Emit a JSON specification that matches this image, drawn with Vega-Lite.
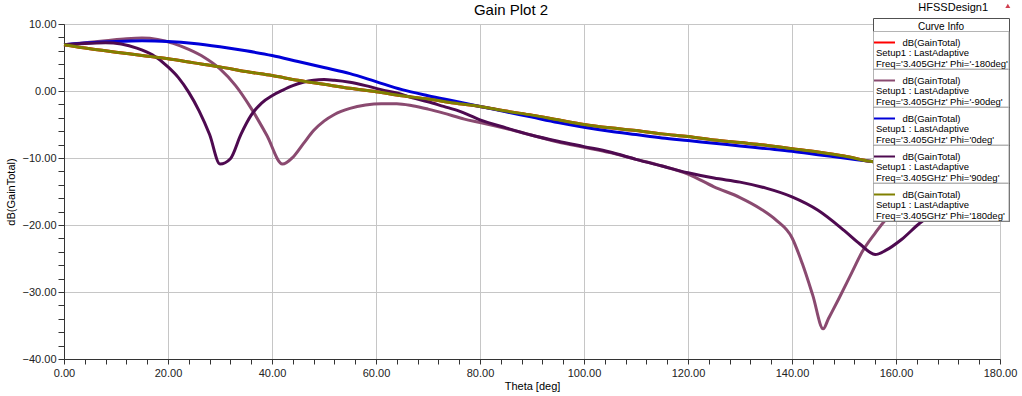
{
  "$schema": "https://vega.github.io/schema/vega-lite/v6.json",
  "width": 936,
  "height": 335,
  "autosize": {"type": "none"},
  "padding": {"left": 64, "top": 24, "right": 22, "bottom": 37},
  "background": "white",
  "title": {"text": "Gain Plot 2", "fontSize": 15, "fontWeight": "normal", "font": "Liberation Sans", "color": "#000000", "offset": -16, "dx": -21},
  "config": {"view": {"stroke": "#404040", "strokeWidth": 1}, "font": "Liberation Sans"},
  "resolve": {"axis": {"x": "independent", "y": "independent"}},
  "datasets": {
    "curves": [
      {"phi":"-180deg","theta":0,"gain":6.9},{"phi":"-180deg","theta":5,"gain":6.3},{"phi":"-180deg","theta":10,"gain":5.8},{"phi":"-180deg","theta":15,"gain":5.3},{"phi":"-180deg","theta":20,"gain":4.8},{"phi":"-180deg","theta":25,"gain":4.2},{"phi":"-180deg","theta":30,"gain":3.6},{"phi":"-180deg","theta":35,"gain":2.9},{"phi":"-180deg","theta":40,"gain":2.3},{"phi":"-180deg","theta":45,"gain":1.6},{"phi":"-180deg","theta":50,"gain":1.0},{"phi":"-180deg","theta":55,"gain":0.4},{"phi":"-180deg","theta":60,"gain":-0.1},{"phi":"-180deg","theta":65,"gain":-0.7},{"phi":"-180deg","theta":70,"gain":-1.2},{"phi":"-180deg","theta":75,"gain":-1.8},{"phi":"-180deg","theta":80,"gain":-2.3},{"phi":"-180deg","theta":85,"gain":-3.0},{"phi":"-180deg","theta":90,"gain":-3.6},{"phi":"-180deg","theta":95,"gain":-4.3},{"phi":"-180deg","theta":100,"gain":-5.0},{"phi":"-180deg","theta":105,"gain":-5.5},{"phi":"-180deg","theta":110,"gain":-5.9},{"phi":"-180deg","theta":115,"gain":-6.4},{"phi":"-180deg","theta":120,"gain":-6.8},{"phi":"-180deg","theta":125,"gain":-7.3},{"phi":"-180deg","theta":130,"gain":-7.7},{"phi":"-180deg","theta":135,"gain":-8.1},{"phi":"-180deg","theta":140,"gain":-8.6},{"phi":"-180deg","theta":145,"gain":-9.1},{"phi":"-180deg","theta":150,"gain":-9.7},{"phi":"-180deg","theta":155,"gain":-10.5},{"phi":"-180deg","theta":160,"gain":-11.1},{"phi":"-180deg","theta":165,"gain":-11.6},{"phi":"-180deg","theta":170,"gain":-12.0},{"phi":"-180deg","theta":175,"gain":-12.3},{"phi":"-180deg","theta":180,"gain":-12.5},

      {"phi":"-90deg","theta":0,"gain":6.9},{"phi":"-90deg","theta":4,"gain":7.2},{"phi":"-90deg","theta":8,"gain":7.5},{"phi":"-90deg","theta":12,"gain":7.8},{"phi":"-90deg","theta":15,"gain":7.9},{"phi":"-90deg","theta":18,"gain":7.7},{"phi":"-90deg","theta":21,"gain":7.1},{"phi":"-90deg","theta":24,"gain":6.2},{"phi":"-90deg","theta":27,"gain":5.0},{"phi":"-90deg","theta":30,"gain":3.3},{"phi":"-90deg","theta":33,"gain":0.8},{"phi":"-90deg","theta":36,"gain":-2.6},{"phi":"-90deg","theta":39,"gain":-6.6},{"phi":"-90deg","theta":42,"gain":-10.9},{"phi":"-90deg","theta":44,"gain":-9.9},{"phi":"-90deg","theta":46,"gain":-7.9},{"phi":"-90deg","theta":48,"gain":-5.9},{"phi":"-90deg","theta":50,"gain":-4.5},{"phi":"-90deg","theta":52,"gain":-3.5},{"phi":"-90deg","theta":55,"gain":-2.6},{"phi":"-90deg","theta":58,"gain":-2.1},{"phi":"-90deg","theta":61,"gain":-1.9},{"phi":"-90deg","theta":64,"gain":-1.9},{"phi":"-90deg","theta":67,"gain":-2.2},{"phi":"-90deg","theta":70,"gain":-2.7},{"phi":"-90deg","theta":73,"gain":-3.3},{"phi":"-90deg","theta":77,"gain":-4.2},{"phi":"-90deg","theta":80,"gain":-4.7},{"phi":"-90deg","theta":85,"gain":-5.6},{"phi":"-90deg","theta":90,"gain":-6.6},{"phi":"-90deg","theta":95,"gain":-7.6},{"phi":"-90deg","theta":100,"gain":-8.4},{"phi":"-90deg","theta":105,"gain":-9.2},{"phi":"-90deg","theta":110,"gain":-10.2},{"phi":"-90deg","theta":115,"gain":-11.2},{"phi":"-90deg","theta":120,"gain":-12.4},{"phi":"-90deg","theta":125,"gain":-14.3},{"phi":"-90deg","theta":130,"gain":-15.9},{"phi":"-90deg","theta":134,"gain":-17.6},{"phi":"-90deg","theta":137,"gain":-19.3},{"phi":"-90deg","theta":140,"gain":-21.9},{"phi":"-90deg","theta":142,"gain":-25.8},{"phi":"-90deg","theta":144,"gain":-30.5},{"phi":"-90deg","theta":146,"gain":-35.5},{"phi":"-90deg","theta":147,"gain":-34.0},{"phi":"-90deg","theta":149,"gain":-31.0},{"phi":"-90deg","theta":151.5,"gain":-27.1},{"phi":"-90deg","theta":153.5,"gain":-24.0},{"phi":"-90deg","theta":156,"gain":-21.2},{"phi":"-90deg","theta":158,"gain":-19.2},{"phi":"-90deg","theta":162,"gain":-17.0},{"phi":"-90deg","theta":170,"gain":-14.5},{"phi":"-90deg","theta":180,"gain":-13.0},

      {"phi":"0deg","theta":0,"gain":6.9},{"phi":"0deg","theta":5,"gain":7.2},{"phi":"0deg","theta":10,"gain":7.4},{"phi":"0deg","theta":15,"gain":7.5},{"phi":"0deg","theta":20,"gain":7.4},{"phi":"0deg","theta":25,"gain":7.1},{"phi":"0deg","theta":30,"gain":6.6},{"phi":"0deg","theta":35,"gain":6.0},{"phi":"0deg","theta":40,"gain":5.3},{"phi":"0deg","theta":45,"gain":4.4},{"phi":"0deg","theta":50,"gain":3.5},{"phi":"0deg","theta":55,"gain":2.6},{"phi":"0deg","theta":60,"gain":1.4},{"phi":"0deg","theta":65,"gain":0.2},{"phi":"0deg","theta":70,"gain":-0.7},{"phi":"0deg","theta":75,"gain":-1.5},{"phi":"0deg","theta":80,"gain":-2.3},{"phi":"0deg","theta":85,"gain":-3.1},{"phi":"0deg","theta":90,"gain":-3.9},{"phi":"0deg","theta":95,"gain":-4.7},{"phi":"0deg","theta":100,"gain":-5.4},{"phi":"0deg","theta":105,"gain":-6.0},{"phi":"0deg","theta":110,"gain":-6.5},{"phi":"0deg","theta":115,"gain":-7.0},{"phi":"0deg","theta":120,"gain":-7.4},{"phi":"0deg","theta":125,"gain":-7.8},{"phi":"0deg","theta":130,"gain":-8.2},{"phi":"0deg","theta":135,"gain":-8.6},{"phi":"0deg","theta":140,"gain":-9.0},{"phi":"0deg","theta":145,"gain":-9.5},{"phi":"0deg","theta":150,"gain":-10.0},{"phi":"0deg","theta":155,"gain":-10.5},{"phi":"0deg","theta":160,"gain":-11.0},{"phi":"0deg","theta":165,"gain":-11.4},{"phi":"0deg","theta":170,"gain":-11.8},{"phi":"0deg","theta":175,"gain":-12.1},{"phi":"0deg","theta":180,"gain":-12.3},

      {"phi":"90deg","theta":0,"gain":6.9},{"phi":"90deg","theta":4,"gain":7.1},{"phi":"90deg","theta":8,"gain":7.2},{"phi":"90deg","theta":11,"gain":7.0},{"phi":"90deg","theta":14,"gain":6.4},{"phi":"90deg","theta":17,"gain":5.4},{"phi":"90deg","theta":20,"gain":3.6},{"phi":"90deg","theta":22,"gain":2.0},{"phi":"90deg","theta":24,"gain":-0.2},{"phi":"90deg","theta":26,"gain":-3.0},{"phi":"90deg","theta":28,"gain":-6.5},{"phi":"90deg","theta":30,"gain":-10.9},{"phi":"90deg","theta":32,"gain":-10.1},{"phi":"90deg","theta":34,"gain":-6.5},{"phi":"90deg","theta":36,"gain":-3.6},{"phi":"90deg","theta":38,"gain":-1.8},{"phi":"90deg","theta":40,"gain":-0.7},{"phi":"90deg","theta":42,"gain":0.1},{"phi":"90deg","theta":44,"gain":0.8},{"phi":"90deg","theta":46,"gain":1.3},{"phi":"90deg","theta":48,"gain":1.6},{"phi":"90deg","theta":50,"gain":1.7},{"phi":"90deg","theta":52,"gain":1.6},{"phi":"90deg","theta":55,"gain":1.3},{"phi":"90deg","theta":58,"gain":0.8},{"phi":"90deg","theta":61,"gain":0.2},{"phi":"90deg","theta":64,"gain":-0.3},{"phi":"90deg","theta":67,"gain":-1.0},{"phi":"90deg","theta":70,"gain":-1.6},{"phi":"90deg","theta":73,"gain":-2.3},{"phi":"90deg","theta":76,"gain":-3.0},{"phi":"90deg","theta":80,"gain":-4.3},{"phi":"90deg","theta":85,"gain":-5.5},{"phi":"90deg","theta":90,"gain":-6.6},{"phi":"90deg","theta":95,"gain":-7.5},{"phi":"90deg","theta":100,"gain":-8.3},{"phi":"90deg","theta":105,"gain":-9.1},{"phi":"90deg","theta":110,"gain":-10.2},{"phi":"90deg","theta":115,"gain":-11.2},{"phi":"90deg","theta":120,"gain":-12.2},{"phi":"90deg","theta":125,"gain":-13.0},{"phi":"90deg","theta":130,"gain":-13.6},{"phi":"90deg","theta":135,"gain":-14.5},{"phi":"90deg","theta":140,"gain":-15.8},{"phi":"90deg","theta":145,"gain":-17.8},{"phi":"90deg","theta":150,"gain":-20.8},{"phi":"90deg","theta":153,"gain":-22.8},{"phi":"90deg","theta":156,"gain":-24.4},{"phi":"90deg","theta":158,"gain":-23.8},{"phi":"90deg","theta":161,"gain":-22.2},{"phi":"90deg","theta":164.6,"gain":-19.7},{"phi":"90deg","theta":170,"gain":-17.0},{"phi":"90deg","theta":175,"gain":-15.2},{"phi":"90deg","theta":180,"gain":-14.0},

      {"phi":"180deg","theta":0,"gain":6.9},{"phi":"180deg","theta":5,"gain":6.3},{"phi":"180deg","theta":10,"gain":5.8},{"phi":"180deg","theta":15,"gain":5.3},{"phi":"180deg","theta":20,"gain":4.8},{"phi":"180deg","theta":25,"gain":4.2},{"phi":"180deg","theta":30,"gain":3.6},{"phi":"180deg","theta":35,"gain":2.9},{"phi":"180deg","theta":40,"gain":2.3},{"phi":"180deg","theta":45,"gain":1.6},{"phi":"180deg","theta":50,"gain":1.0},{"phi":"180deg","theta":55,"gain":0.4},{"phi":"180deg","theta":60,"gain":-0.1},{"phi":"180deg","theta":65,"gain":-0.7},{"phi":"180deg","theta":70,"gain":-1.2},{"phi":"180deg","theta":75,"gain":-1.8},{"phi":"180deg","theta":80,"gain":-2.3},{"phi":"180deg","theta":85,"gain":-3.0},{"phi":"180deg","theta":90,"gain":-3.6},{"phi":"180deg","theta":95,"gain":-4.3},{"phi":"180deg","theta":100,"gain":-5.0},{"phi":"180deg","theta":105,"gain":-5.5},{"phi":"180deg","theta":110,"gain":-5.9},{"phi":"180deg","theta":115,"gain":-6.4},{"phi":"180deg","theta":120,"gain":-6.8},{"phi":"180deg","theta":125,"gain":-7.3},{"phi":"180deg","theta":130,"gain":-7.7},{"phi":"180deg","theta":135,"gain":-8.1},{"phi":"180deg","theta":140,"gain":-8.6},{"phi":"180deg","theta":145,"gain":-9.1},{"phi":"180deg","theta":150,"gain":-9.7},{"phi":"180deg","theta":155,"gain":-10.5},{"phi":"180deg","theta":160,"gain":-11.1},{"phi":"180deg","theta":165,"gain":-11.6},{"phi":"180deg","theta":170,"gain":-12.0},{"phi":"180deg","theta":175,"gain":-12.3},{"phi":"180deg","theta":180,"gain":-12.5}
    ]
  },
  "layer": [
    {
      "data": {"name": "curves"},
      "mark": {"type": "line", "strokeWidth": 3, "interpolate": "monotone"},
      "encoding": {
        "x": {
          "field": "theta", "type": "quantitative",
          "scale": {"domain": [0, 180], "nice": false, "zero": false},
          "axis": {
            "orient": "bottom",
            "title": "Theta [deg]",
            "values": [0,20,40,60,80,100,120,140,160,180],
            "format": ".2f",
            "labelOverlap": false, "labelFlush": false,
            "labelFontSize": 11, "labelColor": "#222222", "labelFont": "Liberation Sans", "labelPadding": 3,
            "tickColor": "#333333", "tickSize": 5, "domainColor": "#333333",
            "gridColor": "#c6c6c6",
            "titleFontSize": 11, "titleFontWeight": "normal", "titleColor": "#000000", "titleFont": "Liberation Sans", "titlePadding": 2
          }
        },
        "y": {
          "field": "gain", "type": "quantitative",
          "scale": {"domain": [-40, 10], "nice": false, "zero": false},
          "axis": {
            "orient": "left",
            "title": "dB(GainTotal)",
            "values": [-40,-30,-20,-10,0,10],
            "format": ".2f",
            "labelOverlap": false, "labelFlush": false,
            "labelFontSize": 11, "labelColor": "#222222", "labelFont": "Liberation Sans", "labelPadding": 2,
            "tickColor": "#333333", "tickSize": 6, "domainColor": "#333333",
            "gridColor": "#c6c6c6",
            "titleFontSize": 11, "titleFontWeight": "normal", "titleColor": "#000000", "titleFont": "Liberation Sans", "titlePadding": 6
          }
        },
        "color": {
          "field": "phi", "type": "nominal",
          "scale": {"domain": ["-180deg", "-90deg", "0deg", "90deg", "180deg"], "range": ["#ff0000", "#8a4a70", "#0000d8", "#4e0a50", "#808000"]},
          "legend": {
            "title": "Curve Info", "orient": "none", "legendX": 809, "legendY": -6,
            "fillColor": "white", "strokeColor": "#505050", "padding": 0,
            "symbolType": "stroke", "symbolSize": 441, "symbolStrokeWidth": 2,
            "labelExpr": "['\\u200b\\u00a0\\u00a0\\u00a0\\u00a0\\u00a0\\u00a0\\u00a0\\u00a0\\u00a0\\u00a0dB(GainTotal)', 'Setup1 : LastAdaptive', 'Freq=\\'3.405GHz\\' Phi=\\'' + datum.label + '\\'']",
            "labelFontSize": 9.5, "labelFont": "Liberation Sans", "labelColor": "#000000", "labelLimit": 300, "labelOffset": -20,
            "titleFontSize": 10, "titleFontWeight": "normal", "titleFont": "Liberation Sans", "titleAnchor": "middle", "titleColor": "#000000",
            "rowPadding": 0, "titlePadding": 3,
            "encode": {
              "labels": {"update": {"lineHeight": {"value": 10.5}}},
              "title": {"update": {"dy": {"value": 4}}},
              "entries": {"update": {"stroke": {"value": "#b4b4b4"}, "strokeWidth": {"value": 1}, "width": {"value": 141}, "height": {"value": 37.7}}}
            }
          }
        }
      }
    },
    {
      "data": {"values": [{}]},
      "mark": {"type": "text", "fontSize": 11, "font": "Liberation Sans", "color": "#000000", "align": "center", "baseline": "middle"},
      "encoding": {
        "x": {"datum": 171, "axis": {"orient": "bottom", "title": null, "values": [4,8,12,16,24,28,32,36,44,48,52,56,64,68,72,76,84,88,92,96,104,108,112,116,124,128,132,136,144,148,152,156,164,168,172,176], "labels": false, "domain": false, "tickColor": "#333333", "tickSize": 5, "gridColor": "#e6e6e6"}},
        "y": {"datum": 12.4, "axis": {"orient": "left", "title": null, "values": [-38,-36,-34,-32,-28,-26,-24,-22,-18,-16,-14,-12,-8,-6,-4,-2,2,4,6,8], "labels": false, "domain": false, "tickColor": "#333333", "tickSize": 6, "gridColor": "#e6e6e6"}},
        "text": {"value": "HFSSDesign1"}
      }
    },
    {
      "data": {"values": [{}]},
      "mark": {"type": "point", "shape": "triangle-up", "size": 25, "filled": true, "color": "#d04050", "opacity": 1},
      "encoding": {"x": {"datum": 181.5, "axis": null}, "y": {"datum": 12.7, "axis": null}}
    }
  ]
}
